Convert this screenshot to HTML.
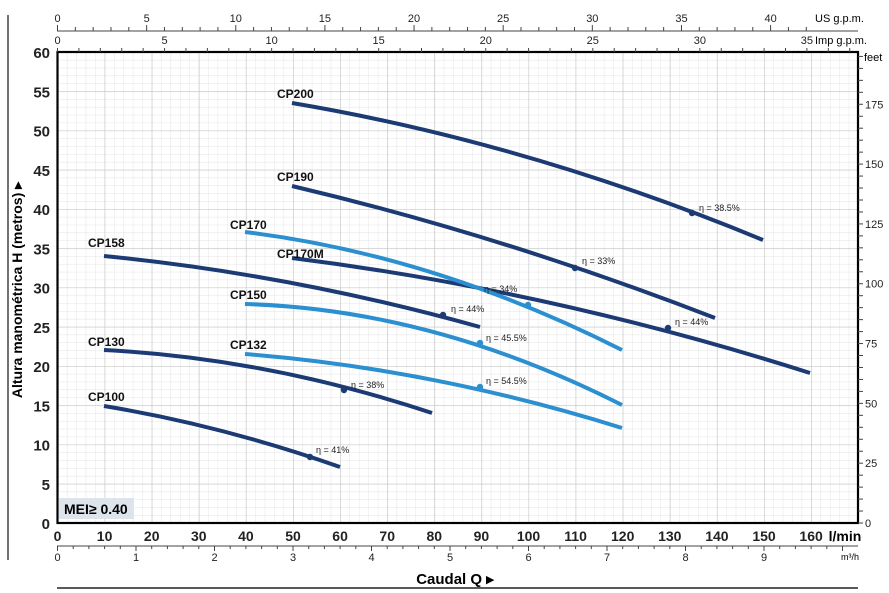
<!DOCTYPE html>
<html><head><meta charset="utf-8"><style>
html,body{margin:0;padding:0;background:#fff}
svg{display:block;font-family:"Liberation Sans",sans-serif}
</style></head><body>
<svg id="s" width="889" height="593" viewBox="0 0 889 593" xmlns="http://www.w3.org/2000/svg">
<defs>
<pattern id="minor" x="57.5" y="52" width="9.42" height="7.85" patternUnits="userSpaceOnUse">
<path d="M0 0V7.85M0 0H9.42" stroke="#e4e4e4" stroke-width="1" fill="none"/></pattern>
<pattern id="major" x="57.5" y="52" width="47.1" height="39.25" patternUnits="userSpaceOnUse">
<path d="M0 0V39.25M0 0H47.1" stroke="#c8c8c8" stroke-width="1.3" fill="none"/></pattern>
</defs>
<rect x="57.5" y="52" width="800.5" height="471" fill="url(#minor)"/>
<rect x="57.5" y="52" width="800.5" height="471" fill="url(#major)"/>
<rect x="57.5" y="52" width="800.5" height="471" fill="none" stroke="#000" stroke-width="2.2"/>
<g id="ticks" stroke="#444" stroke-width="1"></g>
<g id="labels" font-size="11" fill="#222"></g>
<line x1="8" y1="15" x2="8" y2="560" stroke="#444" stroke-width="1.5"/>
<line x1="57" y1="31" x2="858" y2="31" stroke="#444" stroke-width="1"/>
<line x1="57" y1="546" x2="858" y2="546" stroke="#444" stroke-width="1"/>
<line x1="57" y1="588" x2="858" y2="588" stroke="#222" stroke-width="1.5"/>
<text x="815" y="22" font-size="11">US g.p.m.</text>
<text x="815" y="44" font-size="11">Imp g.p.m.</text>
<text x="864" y="61" font-size="11">feet</text>
<text x="845" y="541" font-size="14" font-weight="bold" text-anchor="middle">l/min</text>
<text x="850" y="560" font-size="9" text-anchor="middle">m³/h</text>
<text x="455" y="584" font-size="15" font-weight="bold" text-anchor="middle">Caudal Q ▸</text>
<text transform="translate(22,290) rotate(-90)" font-size="14" font-weight="bold" text-anchor="middle">Altura manométrica H (metros) ▸</text>
<rect x="59" y="498" width="75" height="21" fill="#dde4ec"/>
<text x="64" y="514" font-size="14" font-weight="bold">MEI≥ 0.40</text>
<g fill="none" stroke-width="4" stroke-linecap="butt">
<path d="M292 103Q526.5 142.5 763 240" stroke="#1c3a73"/>
<path d="M292 186Q503.5 236 715 318" stroke="#1c3a73"/>
<path d="M292 258Q551 290.5 810 373" stroke="#1c3a73"/>
<path d="M104 256Q292 274.5 480 327" stroke="#1c3a73"/>
<path d="M104 350Q268 358.5 432 413" stroke="#1c3a73"/>
<path d="M104 406Q222 425.5 340 467" stroke="#1c3a73"/>
<path d="M245 232Q433.5 255 622 350" stroke="#2b8fd0"/>
<path d="M245 304Q433.5 309.5 622 405" stroke="#2b8fd0"/>
<path d="M245 354Q433.5 369 622 428" stroke="#2b8fd0"/>
</g>
<g fill="#1c3a73">
<circle cx="692" cy="213" r="3.2"/><circle cx="575" cy="268" r="3.2"/><circle cx="668" cy="328" r="3.2"/>
<circle cx="443" cy="315" r="3.2"/><circle cx="344" cy="390" r="3.2"/><circle cx="310" cy="457" r="3.2"/>
<circle cx="528" cy="305" r="3.2" fill="#2b8fd0"/><circle cx="480" cy="343" r="3.2" fill="#2b8fd0"/><circle cx="480" cy="387" r="3.2" fill="#2b8fd0"/>
</g>
<g font-size="12" font-weight="bold" fill="#111">
<text x="277" y="98">CP200</text><text x="277" y="181">CP190</text><text x="230" y="229">CP170</text>
<text x="277" y="258">CP170M</text><text x="88" y="247">CP158</text><text x="230" y="299">CP150</text>
<text x="230" y="349">CP132</text><text x="88" y="346">CP130</text><text x="88" y="401">CP100</text>
</g>
<g font-size="9" fill="#222">
<text x="699" y="211">η = 38.5%</text><text x="582" y="264">η = 33%</text><text x="484" y="292">η = 34%</text>
<text x="451" y="312">η = 44%</text><text x="675" y="325">η = 44%</text><text x="486" y="341">η = 45.5%</text>
<text x="486" y="384">η = 54.5%</text><text x="351" y="388">η = 38%</text><text x="316" y="453">η = 41%</text>
</g>
</svg>
<script>
var NS="http://www.w3.org/2000/svg",T=document.getElementById("ticks"),L=document.getElementById("labels");
function ln(a,b,c,d){var e=document.createElementNS(NS,"line");e.setAttribute("x1",a);e.setAttribute("y1",b);e.setAttribute("x2",c);e.setAttribute("y2",d);T.appendChild(e);}
function tx(x,y,s,o){var e=document.createElementNS(NS,"text");e.setAttribute("x",x);e.setAttribute("y",y);e.textContent=s;for(var k in (o||{}))e.setAttribute(k,o[k]);if(!o||!o["text-anchor"])e.setAttribute("text-anchor","middle");L.appendChild(e);}
var X0=57.5,PX=4.71;
for(var g=0;g<=42;g++){var x=X0+g*3.785*PX;ln(x,31,x,g%5?27:25);if(g%5==0)tx(x,22,g);}
for(var g=0;g<=37;g++){var x=X0+g*4.546*PX;if(x>858)break;ln(x,52,x,48);if(g%5==0)tx(x,44,g);}
for(var i=0;i<=50;i++){var x=X0+i*0.2*16.667*PX;if(x>858)break;ln(x,546,x,i%5?549:551);if(i%5==0&&i<50)tx(x,561,i/5);}
for(var q=0;q<=160;q+=10)tx(X0+q*PX,541,q,{"font-size":"14","font-weight":"bold","text-anchor":"middle"});
for(var h=0;h<=60;h+=5)tx(50,523-h*7.85+6,h,{"font-size":"15","font-weight":"bold","text-anchor":"end"});
for(var f=0;f<=195;f+=5){var y=523-f*0.3048*7.85;ln(858,y,863,y);if(f%25==0)tx(865,y+4,f,{"text-anchor":"start"});}
</script>
</body></html>
